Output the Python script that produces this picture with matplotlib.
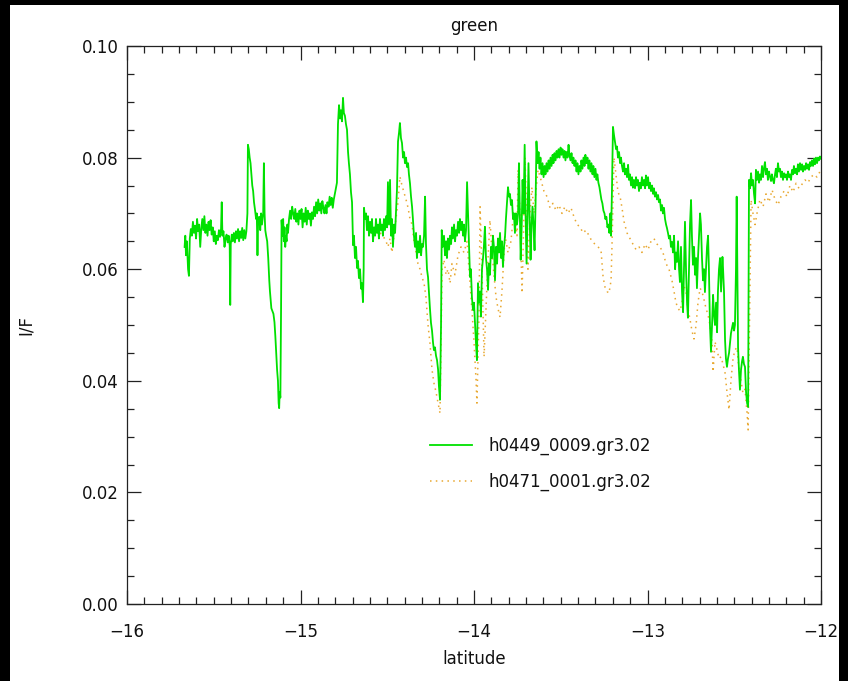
import matplotlib
matplotlib.use("Agg")
import matplotlib.pyplot as plt
from matplotlib.patches import Rectangle
from matplotlib.ticker import MultipleLocator

# ---------------- data ----------------
green_label = "h0449_0009.gr3.02"
orange_label = "h0471_0001.gr3.02"

green_lat = [
 -15.668, -15.664, -15.660, -15.655, -15.648, -15.643, -15.638, -15.632, -15.626, -15.620,
 -15.614, -15.608, -15.602, -15.596, -15.590, -15.584, -15.578, -15.572, -15.566, -15.560,
 -15.554, -15.548, -15.542, -15.536, -15.530, -15.524, -15.518, -15.512, -15.506, -15.500,
 -15.494, -15.488, -15.482, -15.476, -15.470, -15.464, -15.458, -15.454, -15.450, -15.444,
 -15.438, -15.432, -15.426, -15.420, -15.414, -15.408, -15.405, -15.402, -15.396, -15.390,
 -15.384, -15.378, -15.372, -15.366, -15.360, -15.354, -15.348, -15.342, -15.336, -15.330,
 -15.324, -15.318, -15.312, -15.306, -15.303, -15.298, -15.293, -15.288, -15.283, -15.278,
 -15.273, -15.268, -15.262, -15.256, -15.252, -15.248, -15.244, -15.238, -15.232, -15.227,
 -15.222, -15.215, -15.211, -15.207, -15.203, -15.198, -15.192, -15.186, -15.180, -15.176,
 -15.172, -15.168, -15.162, -15.156, -15.150, -15.145, -15.140, -15.135, -15.130, -15.126,
 -15.123, -15.120, -15.116, -15.112, -15.109, -15.104, -15.100, -15.096, -15.092, -15.088,
 -15.084, -15.080, -15.076, -15.072, -15.066, -15.060, -15.054, -15.048, -15.042, -15.036,
 -15.030, -15.024, -15.018, -15.012, -15.006, -15.000, -14.994, -14.988, -14.982, -14.976,
 -14.970, -14.964, -14.958, -14.952, -14.946, -14.940, -14.934, -14.928, -14.922, -14.916,
 -14.910, -14.904, -14.898, -14.892, -14.886, -14.880, -14.874, -14.868, -14.862, -14.856,
 -14.850, -14.845, -14.838, -14.832, -14.826, -14.820, -14.814, -14.808, -14.802, -14.796,
 -14.790, -14.784, -14.778, -14.772, -14.767, -14.761, -14.755, -14.750, -14.744, -14.738,
 -14.732, -14.726, -14.721, -14.715, -14.709, -14.703, -14.697, -14.692, -14.686, -14.680,
 -14.674, -14.669, -14.663, -14.657, -14.651, -14.646, -14.640, -14.636, -14.634, -14.628,
 -14.622, -14.617, -14.611, -14.605, -14.599, -14.593, -14.588, -14.582, -14.576, -14.570,
 -14.565, -14.559, -14.553, -14.548, -14.542, -14.536, -14.530, -14.525, -14.519, -14.513,
 -14.507, -14.501, -14.496, -14.490, -14.484, -14.478, -14.473, -14.467, -14.461, -14.455,
 -14.450, -14.444, -14.438, -14.432, -14.427, -14.421, -14.415, -14.409, -14.403, -14.398,
 -14.392, -14.386, -14.380, -14.375, -14.369, -14.363, -14.357, -14.352, -14.346, -14.340,
 -14.334, -14.329, -14.323, -14.317, -14.311, -14.305, -14.300, -14.294, -14.288, -14.282,
 -14.277, -14.271, -14.265, -14.259, -14.254, -14.248, -14.242, -14.236, -14.231, -14.225,
 -14.219, -14.213, -14.207, -14.202, -14.196, -14.190, -14.186, -14.180, -14.173, -14.167,
 -14.161, -14.156, -14.150, -14.144, -14.138, -14.132, -14.127, -14.121, -14.115, -14.109,
 -14.104, -14.098, -14.092, -14.086, -14.081, -14.075, -14.069, -14.063, -14.058, -14.052,
 -14.046, -14.040, -14.035, -14.029, -14.023, -14.018, -14.012, -14.006, -14.000, -13.994,
 -13.989, -13.983, -13.977, -13.971, -13.965, -13.960, -13.954, -13.948, -13.943, -13.937,
 -13.931, -13.925, -13.919, -13.914, -13.908, -13.902, -13.896, -13.891, -13.885, -13.879,
 -13.873, -13.867, -13.862, -13.856, -13.850, -13.844, -13.839, -13.833, -13.827, -13.821,
 -13.816, -13.810, -13.804, -13.798, -13.793, -13.787, -13.781, -13.775, -13.770, -13.764,
 -13.758, -13.752, -13.746, -13.741, -13.737, -13.731, -13.725, -13.720, -13.714, -13.708,
 -13.703, -13.697, -13.691, -13.686, -13.680, -13.674, -13.668, -13.663, -13.657, -13.651,
 -13.645, -13.640, -13.634, -13.628, -13.622, -13.617, -13.611, -13.605, -13.599, -13.593,
 -13.588, -13.582, -13.576, -13.570, -13.565, -13.559, -13.553, -13.547, -13.542, -13.536,
 -13.530, -13.524, -13.519, -13.513, -13.507, -13.501, -13.496, -13.490, -13.484, -13.478,
 -13.473, -13.467, -13.461, -13.455, -13.450, -13.444, -13.438, -13.432, -13.427, -13.421,
 -13.415, -13.409, -13.404, -13.398, -13.392, -13.386, -13.381, -13.375, -13.369, -13.363,
 -13.358, -13.352, -13.346, -13.340, -13.335, -13.329, -13.323, -13.317, -13.312, -13.306,
 -13.300, -13.294, -13.289, -13.283, -13.277, -13.271, -13.266, -13.260, -13.254, -13.248,
 -13.243, -13.237, -13.231, -13.225, -13.220, -13.214, -13.210, -13.205, -13.199, -13.193,
 -13.187, -13.181, -13.176, -13.170, -13.164, -13.158, -13.153, -13.147, -13.141, -13.135,
 -13.130, -13.124, -13.118, -13.112, -13.107, -13.101, -13.095, -13.089, -13.084, -13.078,
 -13.072, -13.066, -13.061, -13.055, -13.049, -13.043, -13.038, -13.032, -13.026, -13.020,
 -13.014, -13.009, -13.003, -12.997, -12.991, -12.986, -12.980, -12.974, -12.968, -12.963,
 -12.957, -12.951, -12.945, -12.939, -12.934, -12.928, -12.922, -12.916, -12.911, -12.905,
 -12.899, -12.893, -12.888, -12.882, -12.876, -12.870, -12.865, -12.859, -12.853, -12.847,
 -12.841, -12.836, -12.830, -12.824, -12.818, -12.813, -12.807, -12.801, -12.795, -12.790,
 -12.784, -12.778, -12.772, -12.767, -12.761, -12.755, -12.749, -12.744, -12.738, -12.732,
 -12.726, -12.720, -12.715, -12.709, -12.703, -12.697, -12.692, -12.686, -12.680, -12.674,
 -12.669, -12.663, -12.657, -12.651, -12.646, -12.640, -12.634, -12.628, -12.622, -12.617,
 -12.611, -12.605, -12.599, -12.594, -12.588, -12.582, -12.576, -12.571, -12.568, -12.565,
 -12.559, -12.553, -12.548, -12.542, -12.536, -12.530, -12.524, -12.519, -12.513, -12.507,
 -12.501, -12.496, -12.490, -12.486, -12.482, -12.478, -12.473, -12.467, -12.461, -12.455,
 -12.450, -12.444, -12.438, -12.432, -12.426, -12.420, -12.418, -12.415, -12.409, -12.403,
 -12.398, -12.392, -12.386, -12.380, -12.375, -12.369, -12.363, -12.357, -12.352, -12.346,
 -12.340, -12.334, -12.329, -12.323, -12.317, -12.311, -12.306, -12.300, -12.294, -12.288,
 -12.283, -12.277, -12.271, -12.265, -12.260, -12.254, -12.248, -12.242, -12.236, -12.231,
 -12.225, -12.219, -12.213, -12.207, -12.202, -12.196, -12.190, -12.184, -12.179, -12.173,
 -12.167, -12.161, -12.156, -12.150, -12.144, -12.138, -12.133, -12.127, -12.121, -12.115,
 -12.109, -12.104, -12.098, -12.092, -12.086, -12.081, -12.075, -12.069, -12.063, -12.058,
 -12.052, -12.046, -12.040, -12.035, -12.029, -12.023, -12.017, -12.012, -12.006, -12.000,
]

green_if = [
 0.0640, 0.0660, 0.0625, 0.0650, 0.0600, 0.0588, 0.0655, 0.0672, 0.0660, 0.0685,
 0.0665, 0.0678, 0.0655, 0.0690, 0.0668, 0.0680, 0.0640, 0.0672, 0.0690, 0.0670,
 0.0695, 0.0665, 0.0680, 0.0660, 0.0685, 0.0670, 0.0688, 0.0662, 0.0675, 0.0650,
 0.0668, 0.0645, 0.0660, 0.0652, 0.0670, 0.0658, 0.0672, 0.0720, 0.0660, 0.0668,
 0.0640, 0.0655, 0.0662, 0.0648, 0.0660, 0.0642, 0.0536, 0.0645, 0.0662, 0.0650,
 0.0665, 0.0648, 0.0668, 0.0655, 0.0672, 0.0650, 0.0668, 0.0656, 0.0674, 0.0652,
 0.0670, 0.0655, 0.0668, 0.0700, 0.0823, 0.0815, 0.0800, 0.0790, 0.0770, 0.0750,
 0.0740, 0.0720, 0.0706, 0.0690, 0.0700, 0.0625, 0.0690, 0.0694, 0.0670, 0.0700,
 0.0680, 0.0700, 0.0790, 0.0700, 0.0670, 0.0660, 0.0650, 0.0620, 0.0580, 0.0560,
 0.0545, 0.0530, 0.0525, 0.0520, 0.0505, 0.0480, 0.0450, 0.0420, 0.0400, 0.0360,
 0.0351, 0.0380, 0.0370, 0.0530, 0.0688, 0.0660, 0.0690, 0.0650, 0.0675, 0.0640,
 0.0660, 0.0650, 0.0680, 0.0665, 0.0690, 0.0705, 0.0690, 0.0712, 0.0700, 0.0690,
 0.0708, 0.0685, 0.0700, 0.0680, 0.0705, 0.0690, 0.0708, 0.0675, 0.0700, 0.0685,
 0.0710, 0.0680, 0.0705, 0.0690, 0.0700, 0.0678, 0.0702, 0.0690, 0.0712, 0.0695,
 0.0720, 0.0700, 0.0725, 0.0705, 0.0718, 0.0700, 0.0722, 0.0710, 0.0700, 0.0715,
 0.0700, 0.0720, 0.0712, 0.0730, 0.0715, 0.0728, 0.0710, 0.0725, 0.0735, 0.0745,
 0.0755, 0.0860, 0.0894, 0.0870, 0.0885, 0.0865, 0.0907, 0.0880, 0.0875, 0.0860,
 0.0850, 0.0810, 0.0790, 0.0770, 0.0738, 0.0720, 0.0643, 0.0660, 0.0620, 0.0640,
 0.0602, 0.0615, 0.0584, 0.0600, 0.0565, 0.0575, 0.0541, 0.0600, 0.0710, 0.0690,
 0.0700, 0.0670, 0.0695, 0.0660, 0.0685, 0.0665, 0.0690, 0.0650, 0.0675, 0.0660,
 0.0690, 0.0665, 0.0680, 0.0655, 0.0690, 0.0670, 0.0680, 0.0660, 0.0690, 0.0670,
 0.0695, 0.0675, 0.0756, 0.0680, 0.0760, 0.0660, 0.0690, 0.0640, 0.0680, 0.0665,
 0.0700, 0.0742, 0.0829, 0.0845, 0.0862, 0.0835, 0.0826, 0.0800, 0.0810, 0.0790,
 0.0800, 0.0783, 0.0790, 0.0770, 0.0754, 0.0730, 0.0712, 0.0690, 0.0660, 0.0640,
 0.0665, 0.0620, 0.0650, 0.0630, 0.0660, 0.0625, 0.0645, 0.0640, 0.0660, 0.0730,
 0.0647, 0.0600, 0.0586, 0.0555, 0.0530, 0.0504, 0.0490, 0.0468, 0.0455, 0.0460,
 0.0445, 0.0437, 0.0420, 0.0390, 0.0366, 0.0500, 0.0670, 0.0640, 0.0660, 0.0625,
 0.0650, 0.0620, 0.0655, 0.0635, 0.0660, 0.0645, 0.0675, 0.0655, 0.0680, 0.0650,
 0.0670, 0.0660, 0.0685, 0.0665, 0.0690, 0.0670, 0.0685, 0.0660, 0.0680, 0.0650,
 0.0670, 0.0756, 0.0706, 0.0640, 0.0586, 0.0600, 0.0550, 0.0527, 0.0540, 0.0500,
 0.0470, 0.0437, 0.0575, 0.0540, 0.0560, 0.0515, 0.0600, 0.0620, 0.0640, 0.0676,
 0.0620, 0.0600, 0.0563, 0.0610, 0.0590, 0.0640, 0.0620, 0.0660, 0.0640, 0.0580,
 0.0640, 0.0610, 0.0655, 0.0630, 0.0665, 0.0620, 0.0650, 0.0604, 0.0640, 0.0660,
 0.0690, 0.0720, 0.0747, 0.0730, 0.0735, 0.0715, 0.0724, 0.0690, 0.0700, 0.0665,
 0.0700, 0.0680, 0.0700, 0.0790, 0.0720, 0.0617, 0.0680, 0.0760, 0.0700, 0.0823,
 0.0700, 0.0610, 0.0700, 0.0790, 0.0700, 0.0617, 0.0680, 0.0712, 0.0680, 0.0634,
 0.0720, 0.0829, 0.0790, 0.0810, 0.0780, 0.0800, 0.0770, 0.0790, 0.0765, 0.0785,
 0.0770, 0.0790, 0.0775, 0.0795, 0.0780, 0.0800, 0.0785, 0.0805, 0.0790, 0.0808,
 0.0795, 0.0812, 0.0800, 0.0815, 0.0800, 0.0818, 0.0805, 0.0815, 0.0800, 0.0812,
 0.0795, 0.0810, 0.0800, 0.0823, 0.0805, 0.0795, 0.0808, 0.0790, 0.0800, 0.0785,
 0.0795, 0.0775, 0.0790, 0.0770, 0.0785, 0.0775, 0.0795, 0.0780, 0.0800, 0.0785,
 0.0805, 0.0790, 0.0800, 0.0780, 0.0795, 0.0775, 0.0790, 0.0770, 0.0785, 0.0765,
 0.0780, 0.0760, 0.0770, 0.0755, 0.0747, 0.0735, 0.0725, 0.0718, 0.0705, 0.0700,
 0.0690, 0.0694, 0.0675, 0.0680, 0.0665, 0.0700, 0.0660, 0.0738, 0.0855, 0.0840,
 0.0828, 0.0815, 0.0820, 0.0800, 0.0810, 0.0790, 0.0800, 0.0785, 0.0775, 0.0790,
 0.0770, 0.0780, 0.0765, 0.0787, 0.0760, 0.0770, 0.0750, 0.0765, 0.0746, 0.0760,
 0.0745, 0.0765, 0.0750, 0.0760, 0.0740, 0.0755, 0.0745, 0.0765, 0.0750, 0.0760,
 0.0745, 0.0768, 0.0750, 0.0765, 0.0745, 0.0755, 0.0740, 0.0750, 0.0735, 0.0745,
 0.0730, 0.0738, 0.0725, 0.0733, 0.0720, 0.0725, 0.0705, 0.0715, 0.0700, 0.0710,
 0.0690, 0.0680, 0.0674, 0.0665, 0.0655, 0.0660, 0.0640, 0.0649, 0.0630, 0.0660,
 0.0600, 0.0630, 0.0613, 0.0650, 0.0600, 0.0577, 0.0640, 0.0560, 0.0523, 0.0600,
 0.0685, 0.0600, 0.0540, 0.0513, 0.0600, 0.0680, 0.0724, 0.0660, 0.0608, 0.0640,
 0.0590, 0.0620, 0.0566, 0.0620, 0.0660, 0.0700, 0.0680, 0.0620, 0.0580, 0.0600,
 0.0559, 0.0600, 0.0640, 0.0660, 0.0600, 0.0500, 0.0452, 0.0500, 0.0554, 0.0520,
 0.0500, 0.0540, 0.0487, 0.0560, 0.0600, 0.0620, 0.0560, 0.0600, 0.0622, 0.0604,
 0.0560, 0.0473, 0.0440, 0.0425, 0.0440, 0.0450, 0.0470, 0.0485, 0.0495, 0.0504,
 0.0490, 0.0500, 0.0600, 0.0730, 0.0600, 0.0460, 0.0420, 0.0384, 0.0420, 0.0435,
 0.0443, 0.0430, 0.0425, 0.0380, 0.0360, 0.0353, 0.0500, 0.0760, 0.0745, 0.0772,
 0.0750, 0.0760, 0.0735, 0.0718, 0.0778, 0.0760, 0.0775, 0.0755, 0.0770, 0.0760,
 0.0785, 0.0765, 0.0780, 0.0792, 0.0770, 0.0780, 0.0760, 0.0775, 0.0766, 0.0758,
 0.0770, 0.0760, 0.0754, 0.0770, 0.0780, 0.0765, 0.0790, 0.0775, 0.0780, 0.0765,
 0.0775, 0.0760, 0.0772, 0.0765, 0.0770, 0.0760, 0.0775, 0.0765, 0.0770, 0.0760,
 0.0778, 0.0770, 0.0785, 0.0772, 0.0780, 0.0770, 0.0788, 0.0775, 0.0790, 0.0778,
 0.0788, 0.0775, 0.0785, 0.0778, 0.0790, 0.0780, 0.0788, 0.0778, 0.0792, 0.0785,
 0.0795, 0.0785, 0.0798, 0.0788, 0.0800, 0.0790, 0.0800, 0.0795, 0.0802, 0.0798,
]

orange_lat = [
 -14.542, -14.525, -14.507, -14.496, -14.484, -14.473, -14.461, -14.450, -14.438, -14.427,
 -14.415, -14.403, -14.392, -14.380, -14.369, -14.357, -14.346, -14.334, -14.323, -14.311,
 -14.300, -14.288, -14.277, -14.265, -14.254, -14.242, -14.231, -14.219, -14.207, -14.196,
 -14.184, -14.173, -14.161, -14.150, -14.138, -14.127, -14.110, -14.092, -14.075, -14.058,
 -14.040, -14.023, -14.012, -14.000, -13.988, -13.983, -13.971, -13.965, -13.954, -13.942,
 -13.931, -13.919, -13.908, -13.896, -13.885, -13.873, -13.862, -13.850, -13.839, -13.821,
 -13.804, -13.787, -13.775, -13.764, -13.752, -13.746, -13.735, -13.723, -13.712, -13.706,
 -13.695, -13.689, -13.677, -13.666, -13.654, -13.643, -13.631, -13.614, -13.597, -13.579,
 -13.562, -13.545, -13.527, -13.510, -13.493, -13.476, -13.458, -13.441, -13.424, -13.406,
 -13.389, -13.372, -13.354, -13.337, -13.320, -13.303, -13.285, -13.268, -13.256, -13.245,
 -13.233, -13.222, -13.210, -13.205, -13.193, -13.182, -13.170, -13.158, -13.147, -13.135,
 -13.118, -13.101, -13.084, -13.066, -13.049, -13.032, -13.014, -12.997, -12.980, -12.963,
 -12.945, -12.928, -12.911, -12.893, -12.876, -12.859, -12.847, -12.836, -12.824, -12.813,
 -12.801, -12.790, -12.778, -12.767, -12.755, -12.744, -12.732, -12.720, -12.709, -12.697,
 -12.686, -12.674, -12.663, -12.651, -12.640, -12.628, -12.622, -12.611, -12.599, -12.588,
 -12.576, -12.565, -12.553, -12.542, -12.530, -12.519, -12.507, -12.496, -12.484, -12.473,
 -12.461, -12.450, -12.438, -12.426, -12.420, -12.412, -12.403, -12.392, -12.380, -12.369,
 -12.352, -12.334, -12.317, -12.300, -12.282, -12.265, -12.248, -12.231, -12.213, -12.196,
 -12.179, -12.161, -12.144, -12.127, -12.110, -12.092, -12.075, -12.058, -12.040, -12.023,
 -12.006, -12.000,
]

orange_if = [
 0.0665, 0.0660, 0.0650, 0.0640, 0.0655, 0.0630, 0.0660, 0.0690, 0.0720, 0.0766,
 0.0750, 0.0737, 0.0725, 0.0710, 0.0690, 0.0680, 0.0650, 0.0630, 0.0610, 0.0600,
 0.0586, 0.0575, 0.0550, 0.0500, 0.0468, 0.0420, 0.0396, 0.0380, 0.0360, 0.0342,
 0.0600, 0.0617, 0.0590, 0.0600, 0.0575, 0.0610, 0.0590, 0.0625, 0.0640, 0.0630,
 0.0650, 0.0575, 0.0527, 0.0470, 0.0400, 0.0360, 0.0520, 0.0712, 0.0600, 0.0443,
 0.0530, 0.0620, 0.0688, 0.0630, 0.0590, 0.0550, 0.0530, 0.0514, 0.0560, 0.0660,
 0.0630, 0.0650, 0.0690, 0.0700, 0.0660, 0.0778, 0.0700, 0.0557, 0.0700, 0.0800,
 0.0680, 0.0600, 0.0700, 0.0747, 0.0700, 0.0740, 0.0778, 0.0760, 0.0740, 0.0730,
 0.0710, 0.0718, 0.0705, 0.0715, 0.0700, 0.0712, 0.0700, 0.0710, 0.0694, 0.0680,
 0.0676, 0.0665, 0.0670, 0.0660, 0.0650, 0.0645, 0.0640, 0.0634, 0.0586, 0.0568,
 0.0560, 0.0557, 0.0580, 0.0638, 0.0800, 0.0770, 0.0738, 0.0730, 0.0710, 0.0685,
 0.0665, 0.0655, 0.0645, 0.0635, 0.0640, 0.0630, 0.0645, 0.0635, 0.0650, 0.0655,
 0.0645, 0.0640, 0.0630, 0.0610, 0.0600, 0.0580, 0.0560, 0.0540, 0.0530, 0.0525,
 0.0540, 0.0570, 0.0560, 0.0530, 0.0510, 0.0490, 0.0475, 0.0500, 0.0540, 0.0566,
 0.0560, 0.0545, 0.0530, 0.0518, 0.0500, 0.0470, 0.0416, 0.0470, 0.0455, 0.0440,
 0.0443, 0.0430, 0.0414, 0.0380, 0.0348, 0.0400, 0.0440, 0.0455, 0.0460, 0.0420,
 0.0400, 0.0378, 0.0385, 0.0342, 0.0312, 0.0500, 0.0724, 0.0700, 0.0680, 0.0700,
 0.0725, 0.0712, 0.0735, 0.0720, 0.0742, 0.0725, 0.0715, 0.0730, 0.0740, 0.0730,
 0.0750, 0.0738, 0.0754, 0.0745, 0.0752, 0.0760, 0.0755, 0.0765, 0.0770, 0.0765,
 0.0775, 0.0778,
]

x_ticks = [-16, -15, -14, -13, -12]
y_ticks = [0.00, 0.02, 0.04, 0.06, 0.08, 0.10]
x_ticklabels = ["\u221216", "\u221215", "\u221214", "\u221213", "\u221212"]
y_ticklabels = ["0.00", "0.02", "0.04", "0.06", "0.08", "0.10"]

# ---------------- figure ----------------
W, H = 848, 681
fig = plt.figure(figsize=(W / 100, H / 100), dpi=100, facecolor="black")
fig.patches.append(Rectangle((10 / W, 0), (839 - 10) / W, (H - 5) / H,
                             transform=fig.transFigure, facecolor="white",
                             edgecolor="none", zorder=-10))

ax = fig.add_axes([127 / W, 1 - 604 / H, (821 - 127) / W, (604 - 46) / H])
ax.set_facecolor("white")
ax.set_zorder(1)

ax.plot(green_lat, green_if, color="#00E000", lw=1.3, label=green_label, zorder=3)
ax.plot(orange_lat, orange_if, color="#E8A830", lw=1.1, linestyle=(0, (1, 2.8)),
        label=orange_label, zorder=2)

ax.set_xlim(-16, -12)
ax.set_ylim(0.0, 0.10)
ax.set_xticks(x_ticks)
ax.set_xticklabels(x_ticklabels)
ax.set_yticks(y_ticks)
ax.set_yticklabels(y_ticklabels)
ax.xaxis.set_minor_locator(MultipleLocator(0.1))
ax.yaxis.set_minor_locator(MultipleLocator(0.005))

fs = 12
ax.tick_params(which="both", direction="in", top=True, right=True,
               colors="#222222", labelcolor="#111111", labelsize=fs, width=0.9)
ax.tick_params(which="major", length=10)
ax.tick_params(which="minor", length=5)
ax.tick_params(axis="x", which="major", pad=14)
ax.tick_params(axis="y", which="major", pad=6)
for s in ax.spines.values():
    s.set_color("#222222")
    s.set_linewidth(0.9)

ax.set_title("green", fontsize=fs, color="#111111", pad=11)
ax.set_xlabel("latitude", fontsize=fs, color="#111111", labelpad=6)
ax.set_ylabel("I/F", fontsize=fs, color="#111111", labelpad=34)

leg = ax.legend(loc="upper left", bbox_to_anchor=(0.4366, 0.300), frameon=False,
                fontsize=fs, handlelength=2.5, handletextpad=1.0,
                labelspacing=1.1, borderpad=0, borderaxespad=0)
for t in leg.get_texts():
    t.set_color("#111111")

fig.savefig("out.png", dpi=100, facecolor=fig.get_facecolor())
